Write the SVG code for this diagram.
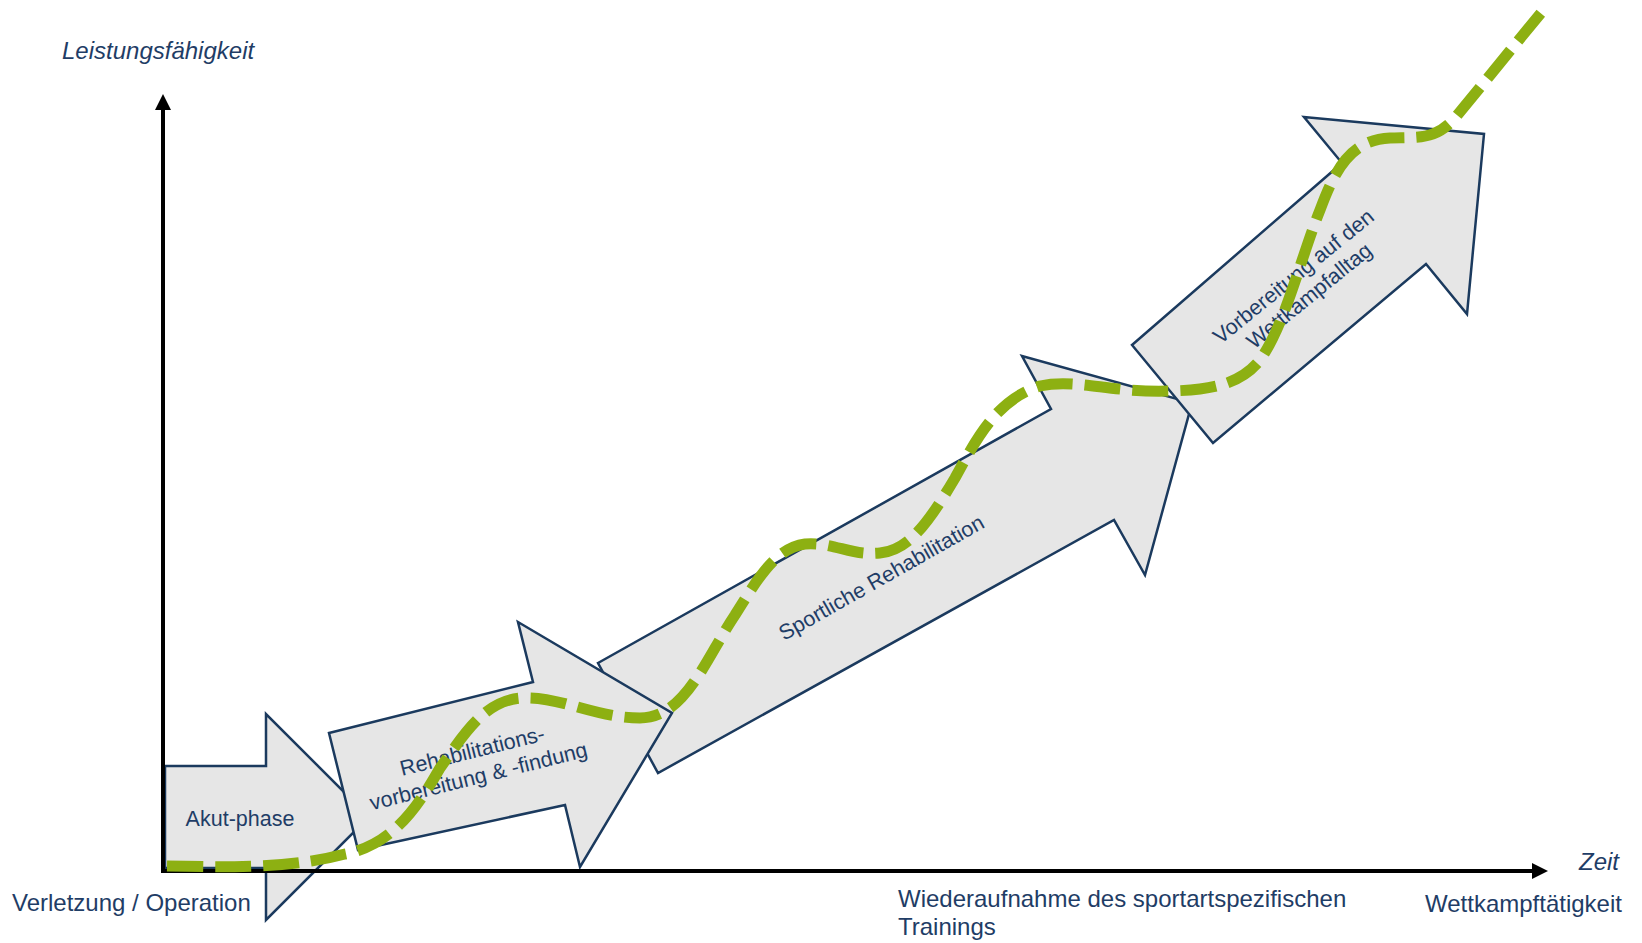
<svg xmlns="http://www.w3.org/2000/svg" width="1642" height="943" viewBox="0 0 1642 943">
<style>
.arr{fill:#E6E6E6;stroke:#1B3A5E;stroke-width:2.5;stroke-linejoin:miter}
.lbl{font-family:"Liberation Sans",Arial,sans-serif;fill:#1F3D66;font-size:24px}
.in{font-family:"Liberation Sans",Arial,sans-serif;fill:#1F3D66;font-size:21.5px;text-anchor:middle}
.it{font-style:italic}
.axis{stroke:#000;stroke-width:4;fill:none}
.curve{fill:none;stroke:#8DB012;stroke-width:11;stroke-dasharray:36 12}
</style>
<defs>
<marker id="ah" viewBox="0 0 16 16" markerWidth="16" markerHeight="16" refX="1" refY="8" orient="auto" markerUnits="userSpaceOnUse">
<path d="M0,0 L16,8 L0,16 z" fill="#000"/>
</marker>
</defs>
<rect width="1642" height="943" fill="#fff"/>
<g id="akut">
<polygon class="arr" points="165,766 266,766 266,714 369,817 266,920 266,868 165,868"/>
<text class="in" x="240" y="826">Akut-phase</text>
</g>
<g id="sportliche">
<polygon class="arr" points="598,663 1051,409 1022,356 1192,403 1145,575 1114,520 658,773"/>
<text class="in" transform="translate(885,584) rotate(-29.5)" x="0" y="0">Sportliche Rehabilitation</text>
</g>
<g id="reha">
<polygon class="arr" points="329,733 533,682 518,622 672,713 580,867 565,805 358,850"/>
<g transform="translate(474,758) rotate(-14)">
<text class="in" x="0" y="0">Rehabilitations-</text>
<text class="in" x="0" y="26">vorbereitung &amp; -findung</text>
</g>
</g>
<g id="vorbereitung">
<polygon class="arr" points="1132,345 1342,163 1304,117 1484,134 1467,314 1426,264 1213,443"/>
<g transform="translate(1298,282) rotate(-39)">
<text class="in" x="0" y="0">Vorbereitung auf den</text>
<text class="in" x="0" y="25">Wettkampfalltag</text>
</g>
</g>
<g id="axes">
<line class="axis" x1="163" y1="873" x2="163" y2="109" marker-end="url(#ah)"/>
<line class="axis" x1="161" y1="871" x2="1533" y2="871" marker-end="url(#ah)"/>
</g>
<g id="connectors">
<path class="curve" d="M167,866 C250,868 300,866 345,854 C390,845 415,812 440,768 C465,733 485,700 522,698 C560,696 595,718 640,718 C685,718 705,660 735,615 C757,580 775,548 805,544 C835,542 850,556 880,553 C910,550 930,520 955,478 C975,442 995,400 1040,386 C1075,378 1110,393 1170,391 C1210,390 1240,385 1260,360 C1285,325 1300,260 1320,210 C1335,170 1350,140 1390,138 C1420,137 1435,140 1455,118 L1545,8"/>
</g>
<g id="labels">
<text class="lbl it" x="62" y="59">Leistungsfähigkeit</text>
<text class="lbl it" x="1579" y="870">Zeit</text>
<text class="lbl" x="12" y="911">Verletzung / Operation</text>
<text class="lbl" x="1425" y="912">Wettkampftätigkeit</text>
<text class="lbl" x="898" y="907">Wiederaufnahme des sportartspezifischen</text>
<text class="lbl" x="898" y="935">Trainings</text>
</g>
</svg>
